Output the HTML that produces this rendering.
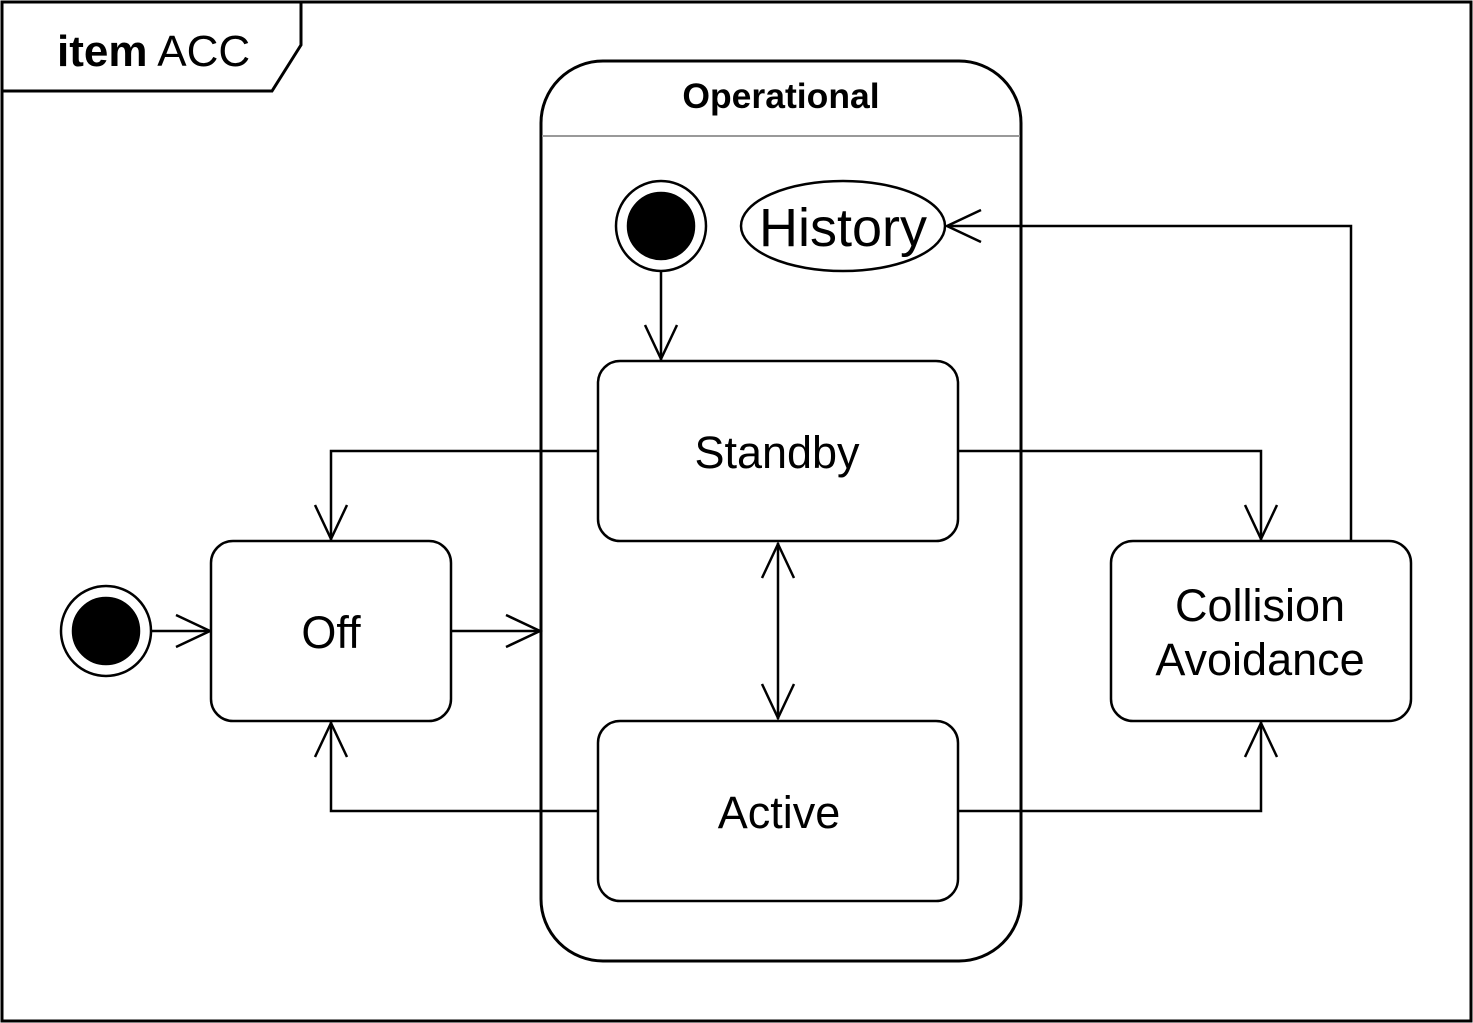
<!DOCTYPE html>
<html><head><meta charset="utf-8"><style>html,body{margin:0;padding:0;background:#fff}svg{display:block}</style></head>
<body>
<svg width="1473" height="1023" viewBox="0 0 1473 1023" xmlns="http://www.w3.org/2000/svg" font-family="Liberation Sans, Arial, sans-serif">
<rect x="0" y="0" width="1473" height="1023" fill="#fff"/>
<rect x="2" y="2" width="1469" height="1019" fill="none" stroke="#000" stroke-width="3"/>
<polygon points="2,2 301,2 301,45 272,91 2,91" fill="#fff" stroke="#000" stroke-width="3"/>
<text x="57" y="66" font-size="44"><tspan font-weight="bold">item</tspan> ACC</text>

<rect x="541" y="61" width="480" height="900" rx="62" fill="#fff" stroke="#000" stroke-width="3"/>
<line x1="542" y1="136" x2="1020" y2="136" stroke="#999" stroke-width="2"/>
<text x="781" y="108" font-size="35.5" font-weight="bold" text-anchor="middle">Operational</text>

<g fill="none" stroke="#000" stroke-width="2.5">
<line x1="151" y1="631" x2="210" y2="631"/>
<line x1="451" y1="631" x2="540" y2="631"/>
<line x1="661" y1="271" x2="661" y2="360"/>
<polyline points="598,451 331,451 331,540"/>
<polyline points="598,811 331,811 331,722"/>
<polyline points="958,451 1261,451 1261,540"/>
<polyline points="958,811 1261,811 1261,722"/>
<polyline points="1351,541 1351,226 947,226"/>
<line x1="778" y1="543" x2="778" y2="719"/>
<polyline points="176,615 210,631 176,647"/>
<polyline points="506,615 540,631 506,647"/>
<polyline points="645,325 661,359 677,325"/>
<polyline points="315,505 331,539 347,505"/>
<polyline points="315,757 331,723 347,757"/>
<polyline points="1245,505 1261,539 1277,505"/>
<polyline points="1245,757 1261,723 1277,757"/>
<polyline points="981,210 947,226 981,242"/>
<polyline points="762,578 778,544 794,578"/>
<polyline points="762,684 778,718 794,684"/>
</g>

<g stroke="#000" stroke-width="2.5">
<circle cx="106" cy="631" r="45" fill="#fff"/>
<circle cx="106" cy="631" r="33" fill="#000"/>
<circle cx="661" cy="226" r="45" fill="#fff"/>
<circle cx="661" cy="226" r="33" fill="#000"/>
<ellipse cx="843" cy="226" rx="102" ry="45" fill="#fff"/>
<rect x="598" y="361" width="360" height="180" rx="22" fill="#fff"/>
<rect x="598" y="721" width="360" height="180" rx="22" fill="#fff"/>
<rect x="211" y="541" width="240" height="180" rx="22" fill="#fff"/>
<rect x="1111" y="541" width="300" height="180" rx="22" fill="#fff"/>
</g>

<g font-size="45" text-anchor="middle" fill="#000">
<text x="843" y="246" font-size="54">History</text>
<text x="777" y="468">Standby</text>
<text x="779" y="828">Active</text>
<text x="331" y="648">Off</text>
<text x="1260" y="621">Collision</text>
<text x="1260" y="675">Avoidance</text>
</g>
</svg>
</body></html>
